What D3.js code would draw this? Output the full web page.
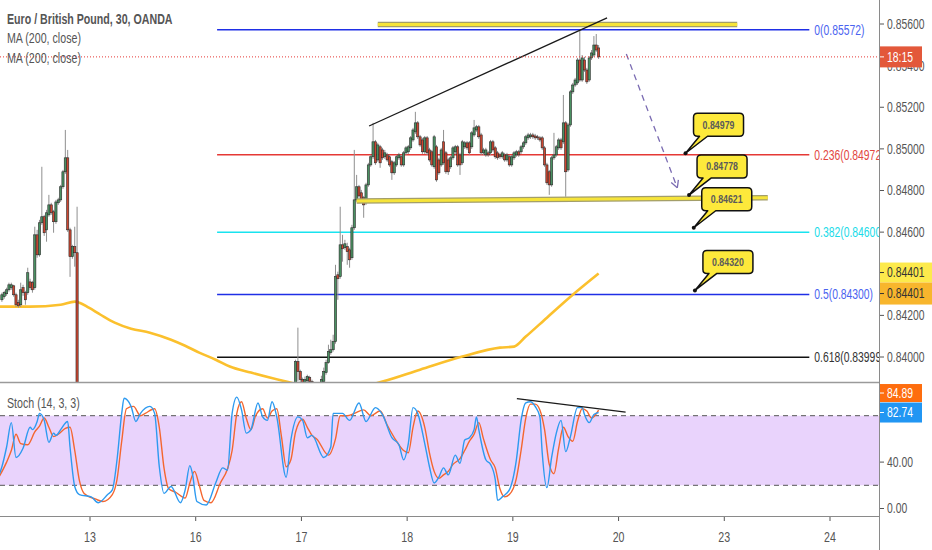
<!DOCTYPE html>
<html>
<head>
<meta charset="utf-8">
<script src="https://cdn.jsdelivr.net/npm/d3@7"></script>
<style>
  html, body { margin: 0; padding: 0; background: #fff; }
  svg { display: block; font-family: 'Liberation Sans', Arial, sans-serif; }
</style>
</head>
<body>
<svg id="chart" width="932" height="550"></svg>
<script>
// 时间轴：交易日标签（12 号为第 0 个交易日）
const dayLabels = ['12', '13', '16', '17', '18', '19', '20', '23', '24']
const BARS_PER_DAY = 45

// K 线 [open, high, low, close]，12 号 - 13 号
const candlesStartA = 7
const candlesA = [
  [0.84275, 0.84309, 0.84265, 0.84299], [0.8429, 0.84318, 0.8428, 0.84309], [0.84304, 0.84333, 0.84294, 0.84323],
  [0.84323, 0.84357, 0.84314, 0.84347], [0.84333, 0.84357, 0.84323, 0.84347], [0.84342, 0.84347, 0.8429, 0.84299],
  [0.84299, 0.84309, 0.84241, 0.84251], [0.84261, 0.84275, 0.84237, 0.84246], [0.84251, 0.84357, 0.84241, 0.84323],
  [0.84333, 0.84347, 0.84294, 0.84309], [0.84309, 0.84318, 0.84251, 0.84275], [0.84309, 0.84429, 0.84299, 0.84405],
  [0.84361, 0.84376, 0.84323, 0.84333], [0.84357, 0.84366, 0.84309, 0.84323], [0.84333, 0.84626, 0.84323, 0.84587],
  [0.84587, 0.84611, 0.84477, 0.84491], [0.84491, 0.84659, 0.84482, 0.84645], [0.84645, 0.84914, 0.84635, 0.84674],
  [0.84674, 0.84683, 0.84582, 0.84597], [0.84611, 0.84707, 0.84554, 0.84693], [0.84683, 0.84779, 0.84674, 0.84731],
  [0.84731, 0.84741, 0.84683, 0.84693], [0.84698, 0.84707, 0.84597, 0.8465], [0.8465, 0.84755, 0.8464, 0.84745],
  [0.84741, 0.84765, 0.84731, 0.84755], [0.84755, 0.84827, 0.84745, 0.84818], [0.84818, 0.84899, 0.84808, 0.8489],
  [0.8489, 0.85091, 0.8488, 0.84957], [0.84957, 0.84995, 0.84601, 0.84611], [0.84611, 0.84621, 0.84385, 0.84482],
  [0.84482, 0.84539, 0.84472, 0.8453], [0.8453, 0.84626, 0.84434, 0.84501], [0.84501, 0.84722, 0.83651, 0.83699],
]

// K 线，16 号尾盘 - 19 号
const candlesStartB = 132
const candlesB = [
  [0.83834, 0.83987, 0.83819, 0.83978], [0.83978, 0.84141, 0.83882, 0.8393], [0.8393, 0.83939, 0.83872, 0.83891],
  [0.83891, 0.83901, 0.83834, 0.83853], [0.83853, 0.83906, 0.83834, 0.83891], [0.83886, 0.83915, 0.83872, 0.83906],
  [0.83901, 0.8391, 0.83867, 0.83882], [0.83882, 0.83891, 0.83824, 0.83843], [0.83843, 0.83853, 0.83795, 0.83814],
  [0.83814, 0.83834, 0.83786, 0.83805], [0.83805, 0.83862, 0.83795, 0.83843], [0.83843, 0.8391, 0.83834, 0.83891],
  [0.83882, 0.83949, 0.83872, 0.8393], [0.83925, 0.83987, 0.83915, 0.83973], [0.83973, 0.84059, 0.83968, 0.84026],
  [0.84021, 0.84083, 0.84011, 0.84035], [0.84035, 0.84107, 0.84026, 0.84074], [0.84074, 0.84443, 0.84064, 0.84386],
  [0.84395, 0.8441, 0.84275, 0.84376], [0.84386, 0.84722, 0.84376, 0.84539], [0.84539, 0.84587, 0.84458, 0.8452],
  [0.84525, 0.84563, 0.84515, 0.84544], [0.8453, 0.84549, 0.84443, 0.84506], [0.84515, 0.84525, 0.84429, 0.84467],
  [0.84477, 0.84635, 0.84467, 0.84621], [0.84621, 0.84995, 0.84611, 0.84755], [0.84755, 0.84875, 0.84746, 0.84818],
  [0.84818, 0.84827, 0.84765, 0.84774], [0.84789, 0.84803, 0.84746, 0.84755], [0.84765, 0.84774, 0.84669, 0.84731],
  [0.84741, 0.84837, 0.84731, 0.84827], [0.84827, 0.84933, 0.84818, 0.84923], [0.84923, 0.84971, 0.84914, 0.84962],
  [0.84962, 0.85125, 0.84952, 0.85034], [0.85034, 0.85043, 0.84923, 0.84933], [0.84947, 0.85029, 0.84938, 0.85019],
  [0.8501, 0.85019, 0.84909, 0.84933], [0.84995, 0.85005, 0.84947, 0.84957], [0.84962, 0.84995, 0.84952, 0.84981],
  [0.84971, 0.84981, 0.84938, 0.84947], [0.84962, 0.84971, 0.84914, 0.84923], [0.84938, 0.84947, 0.84851, 0.84885],
  [0.84885, 0.84942, 0.84875, 0.84933], [0.84923, 0.84971, 0.84914, 0.84962], [0.84957, 0.84981, 0.84947, 0.84971],
  [0.84962, 0.84971, 0.84914, 0.84923], [0.84923, 0.8499, 0.84914, 0.84981], [0.84981, 0.85014, 0.84971, 0.85005],
  [0.84986, 0.85019, 0.84976, 0.8501], [0.85005, 0.85062, 0.84995, 0.85053], [0.85043, 0.85101, 0.85034, 0.85091],
  [0.85082, 0.85178, 0.85072, 0.85125], [0.85125, 0.85134, 0.85048, 0.85058], [0.85058, 0.85067, 0.8501, 0.85019],
  [0.85043, 0.85053, 0.84976, 0.84986], [0.84986, 0.85062, 0.84976, 0.85053], [0.85053, 0.85062, 0.84971, 0.84981],
  [0.84995, 0.85005, 0.84938, 0.84947], [0.84986, 0.84995, 0.84914, 0.84923], [0.84914, 0.85067, 0.84904, 0.85058],
  [0.8501, 0.85019, 0.84842, 0.84851], [0.84947, 0.84957, 0.84875, 0.84885], [0.84923, 0.85005, 0.84914, 0.84995],
  [0.85034, 0.85091, 0.84923, 0.84933], [0.84981, 0.8499, 0.8488, 0.8489], [0.84947, 0.84957, 0.84875, 0.8489],
  [0.84914, 0.84966, 0.84904, 0.84957], [0.84957, 0.85014, 0.84947, 0.85005], [0.84986, 0.85019, 0.84976, 0.8501],
  [0.8501, 0.85019, 0.84914, 0.84923], [0.84971, 0.84981, 0.84875, 0.84923], [0.84933, 0.85043, 0.84923, 0.85034],
  [0.8501, 0.85038, 0.85, 0.85029], [0.85029, 0.85038, 0.84995, 0.85005], [0.85029, 0.85038, 0.84971, 0.84981],
  [0.8501, 0.85086, 0.85, 0.85077], [0.85067, 0.85139, 0.85058, 0.85101], [0.85091, 0.85115, 0.85082, 0.85106],
  [0.85106, 0.85115, 0.85048, 0.85058], [0.85067, 0.85077, 0.84971, 0.84981], [0.84981, 0.85005, 0.84971, 0.84995],
  [0.84971, 0.85005, 0.84962, 0.84995], [0.84981, 0.8499, 0.84962, 0.84971], [0.84981, 0.85043, 0.84971, 0.85034],
  [0.85034, 0.85043, 0.84986, 0.84995], [0.85005, 0.85014, 0.84952, 0.84962], [0.84981, 0.8499, 0.84947, 0.84957],
  [0.84971, 0.84981, 0.84952, 0.84962], [0.84962, 0.8499, 0.84952, 0.84981], [0.84971, 0.84981, 0.84938, 0.84947],
  [0.84947, 0.84981, 0.84938, 0.84971], [0.84962, 0.84971, 0.84914, 0.84923], [0.84923, 0.84971, 0.84914, 0.84962],
  [0.84957, 0.8499, 0.84947, 0.84981], [0.84971, 0.84995, 0.84962, 0.84986], [0.84986, 0.84995, 0.84962, 0.84971],
  [0.84986, 0.85019, 0.84976, 0.8501], [0.8501, 0.85038, 0.85, 0.85029], [0.85029, 0.85067, 0.85019, 0.85058],
  [0.85053, 0.85077, 0.85043, 0.85067], [0.85058, 0.85077, 0.85048, 0.85067], [0.85067, 0.85077, 0.85048, 0.85058],
  [0.85062, 0.85072, 0.85043, 0.85053], [0.85058, 0.85067, 0.85043, 0.85053], [0.85053, 0.85062, 0.85034, 0.85043],
  [0.85053, 0.85062, 0.84995, 0.85005], [0.85005, 0.85014, 0.84914, 0.84923], [0.84923, 0.84933, 0.84827, 0.84837],
  [0.8489, 0.84899, 0.84779, 0.84827], [0.84827, 0.84966, 0.84818, 0.84957], [0.84957, 0.85077, 0.84947, 0.84971],
  [0.84971, 0.85019, 0.84962, 0.8501], [0.85005, 0.85053, 0.84995, 0.85043], [0.85043, 0.85053, 0.84995, 0.85005],
  [0.85034, 0.85259, 0.85024, 0.85125], [0.85125, 0.85134, 0.8477, 0.8489], [0.84899, 0.85125, 0.8489, 0.85115],
  [0.85115, 0.85283, 0.85106, 0.85274], [0.85274, 0.85317, 0.85264, 0.85307], [0.85307, 0.85341, 0.85298, 0.85331],
  [0.85317, 0.85437, 0.85307, 0.85427], [0.85427, 0.85572, 0.85322, 0.85331], [0.85331, 0.85451, 0.85322, 0.85437],
  [0.85427, 0.85442, 0.8537, 0.85379], [0.85379, 0.85389, 0.85312, 0.85322], [0.85331, 0.85446, 0.85322, 0.85437],
  [0.85437, 0.85475, 0.85427, 0.85461], [0.85451, 0.85542, 0.85442, 0.85499], [0.85499, 0.85552, 0.85466, 0.85475],
  [0.85485, 0.85499, 0.85432, 0.85442],
]

// MA(200, close) [bar, value]
const ma200 = [
  [6, 0.84242], [19, 0.84242], [32, 0.84251], [38, 0.84266], [40, 0.84261], [44, 0.84237], [49, 0.84203],
  [55, 0.84165], [62, 0.84136], [70, 0.84117], [79, 0.84083], [85, 0.84054], [91, 0.84021], [98, 0.83987],
  [104, 0.83954], [113, 0.83925], [121, 0.83901], [128, 0.83882], [149, 0.83834], [169, 0.83882], [185, 0.83939],
  [203, 0.84002], [219, 0.84045], [225, 0.8405], [230, 0.84098], [239, 0.84189], [250, 0.84299], [261, 0.84401],
]

// Stoch (14, 3, 3) %K [bar, value]
const stochK = [
  [6, 30], [7, 36], [9, 53], [11, 74], [13, 44], [16, 52], [19, 70], [20, 68], [22, 75], [23, 82], [25, 76], [27, 57],
  [29, 65], [30, 63], [32, 68], [35, 75], [36, 53], [38, 19], [40, 12], [45, 10], [48, 5], [52, 12], [54, 16],
  [56, 42], [58, 82], [59, 95], [62, 88], [64, 75], [66, 82], [70, 88], [72, 82], [74, 36], [76, 13], [79, 19],
  [83, 5], [85, 16], [87, 37], [88, 31], [90, 6], [94, 3], [98, 22], [101, 35], [103, 33], [105, 82], [107, 96],
  [109, 85], [111, 65], [113, 68], [116, 91], [118, 79], [120, 76], [122, 92], [124, 79], [128, 27], [130, 59],
  [133, 79], [135, 76], [137, 61], [139, 63], [144, 44], [147, 53], [148, 82], [152, 82], [155, 76], [159, 91],
  [162, 75], [166, 87], [169, 81], [173, 61], [176, 55], [178, 42], [180, 56], [182, 87], [184, 82], [187, 56],
  [189, 36], [191, 22], [193, 27], [195, 35], [197, 29], [200, 46], [202, 39], [204, 59], [206, 61], [208, 68],
  [209, 79], [210, 68], [213, 42], [215, 38], [217, 25], [218, 7], [220, 10], [223, 16], [226, 42], [228, 76],
  [230, 91], [232, 92], [234, 88], [236, 79], [237, 48], [239, 18], [241, 44], [243, 65], [245, 76], [247, 49],
  [249, 62], [252, 87], [254, 87], [255, 81], [257, 74], [259, 81], [261, 82.74],
]

// Stoch %D [bar, value]
const stochD = [
  [6, 28], [9, 40], [11, 50], [13, 64], [15, 56], [18, 55], [21, 66], [23, 71], [25, 78], [27, 70], [29, 62],
  [31, 64], [34, 69], [36, 70], [38, 50], [40, 24], [42, 13], [47, 8], [50, 6], [54, 12], [56, 25], [58, 58],
  [60, 86], [63, 88], [66, 80], [68, 82], [72, 86], [74, 70], [76, 35], [78, 17], [81, 14], [85, 9], [87, 22],
  [89, 32], [91, 20], [93, 7], [96, 5], [100, 22], [103, 34], [105, 50], [107, 82], [109, 92], [111, 78],
  [113, 68], [115, 80], [118, 86], [120, 78], [122, 84], [124, 86], [126, 62], [128, 36], [130, 42], [132, 66],
  [135, 77], [137, 70], [139, 63], [141, 60], [146, 46], [149, 60], [151, 80], [154, 80], [157, 82], [161, 85],
  [164, 80], [168, 84], [171, 72], [175, 58], [178, 50], [180, 48], [182, 70], [184, 84], [187, 70], [189, 48],
  [191, 32], [193, 26], [195, 29], [197, 32], [199, 38], [202, 43], [204, 50], [206, 58], [208, 64], [210, 74],
  [212, 60], [215, 42], [217, 35], [219, 17], [221, 10], [223, 12], [226, 26], [228, 50], [230, 78], [232, 90],
  [234, 90], [236, 85], [238, 68], [240, 38], [242, 30], [244, 52], [246, 70], [248, 62], [250, 58], [252, 75],
  [254, 86], [256, 84], [258, 78], [261, 84.89],
]

// 斐波那契回撤
const fibRatios = [0, 0.236, 0.382, 0.5, 0.618]
const fibPrices = [0.85572, 0.84972, 0.846, 0.843, 0.83999]
const fibRange = [98.6, 350.7]

// 标注气泡
const calloutBars = [298, 299.5, 301.5, 302]
const calloutPrices = [0.84979, 0.84778, 0.84621, 0.8432]

// 画线 [bar, price]
const topBand = [[167, 0.85597], [320, 0.85597]]
const supportBand = [[158, 0.8475], [333, 0.84765]]
const trendLine = [[163.3, 0.8511], [264.6, 0.85629]]
const projection = [[272.8, 0.85456], [294.5, 0.84813]]
const stochTrend = [[226.2, 94.7], [272.5, 83]]

// 坐标轴刻度
const priceTicks = [0.84, 0.842, 0.844, 0.846, 0.848, 0.85, 0.852, 0.854, 0.856]
const stochTicks = [0, 40, 80]
const countdown = '18:15'

// 布局
const width = 932
const height = 550
const axisX = 879
const mainBottom = 382
const stochTop = 383
const stochBottom = 516

const svg = d3.select('#chart')

const xDay = d3.scaleLinear().domain([1, 8]).range([90, 830])
const xBar = (b) => xDay((b + 0.5) / BARS_PER_DAY)
const y = d3.scaleLinear().domain([0.84, 0.856]).range([357, 24])
const yS = d3.scaleLinear().domain([0, 100]).range([508.5, 392.5])

// 文字横向压缩（参考图字体偏窄）
function squeeze(sel, k) {
  sel.each(function () {
    const w = this.getComputedTextLength()
    d3.select(this).attr('textLength', w * k).attr('lengthAdjust', 'spacingAndGlyphs')
  })
  return sel
}

const defs = svg.append('defs')
defs.append('clipPath').attr('id', 'clip-main').append('rect').attr('width', axisX).attr('height', mainBottom)
defs
  .append('clipPath')
  .attr('id', 'clip-stoch')
  .append('rect')
  .attr('y', stochTop)
  .attr('width', axisX)
  .attr('height', stochBottom - stochTop)

/* 主图 */
const main = svg.append('g').attr('clip-path', 'url(#clip-main)')

// 斐波那契线
const fib = main.append('g').attr('class', 'fib')
const fibLine = ['#1f2fe6', '#e53935', '#19e3ef', '#1f2fe6', '#111']
const fibText = ['#4a63f0', '#e2463f', '#19dbe8', '#4a63f0', '#333']
fibRatios.forEach((r, i) => {
  fib
    .append('line')
    .attr('x1', xBar(fibRange[0]))
    .attr('x2', xBar(fibRange[1]))
    .attr('y1', y(fibPrices[i]))
    .attr('y2', y(fibPrices[i]))
    .attr('stroke', fibLine[i])
    .attr('stroke-width', 1.5)
  fib
    .append('text')
    .attr('x', xBar(fibRange[1]) + 5)
    .attr('y', y(fibPrices[i]))
    .attr('dy', '0.35em')
    .attr('font-size', 14)
    .attr('fill', fibText[i])
    .text(`${r}(${fibPrices[i].toFixed(5)})`)
    .call(squeeze, 0.74)
})

// MA 线
main
  .append('path')
  .datum(ma200)
  .attr('fill', 'none')
  .attr('stroke', '#fbc02d')
  .attr('stroke-width', 2.6)
  .attr('d', d3.line().x((d) => xBar(d[0])).y((d) => y(d[1])).curve(d3.curveMonotoneX))

// K 线
function drawCandles(list, start) {
  const bars = list.map((d, i) => ({bar: start + i, o: d[0], h: d[1], l: d[2], c: d[3]}))
  const g = main.append('g').attr('class', 'candles')
  g.selectAll('line')
    .data(bars)
    .join('line')
    .attr('x1', (d) => xBar(d.bar))
    .attr('x2', (d) => xBar(d.bar))
    .attr('y1', (d) => y(d.h))
    .attr('y2', (d) => y(d.l))
    .attr('stroke', '#8f8f8f')
    .attr('stroke-width', 1)
  g.selectAll('rect')
    .data(bars)
    .join('rect')
    .attr('x', (d) => xBar(d.bar) - 1.1)
    .attr('width', 2.2)
    .attr('y', (d) => y(Math.max(d.o, d.c)))
    .attr('height', (d) => Math.max(1, Math.abs(y(d.o) - y(d.c))))
    .attr('fill', (d) => (d.c >= d.o ? '#4a9162' : '#cc4630'))
    .attr('stroke', '#2a2a2a')
    .attr('stroke-width', 0.6)
}
drawCandles(candlesA, candlesStartA)
drawCandles(candlesB, candlesStartB)

// 黄色高亮带
function band(pts) {
  const line = d3.line().x((d) => xBar(d[0])).y((d) => y(d[1]))
  main.append('path').attr('d', line(pts)).attr('stroke', '#a39e6a').attr('stroke-width', 5.5).attr('fill', 'none')
  main.append('path').attr('d', line(pts)).attr('stroke', '#f6e43a').attr('stroke-width', 3).attr('fill', 'none')
}
band(topBand)
band(supportBand)

// 趋势线
main
  .append('line')
  .attr('x1', xBar(trendLine[0][0]))
  .attr('y1', y(trendLine[0][1]))
  .attr('x2', xBar(trendLine[1][0]))
  .attr('y2', y(trendLine[1][1]))
  .attr('stroke', '#1a1a1a')
  .attr('stroke-width', 1.3)

// 预测箭头（虚线）
{
  const [a, b] = projection
  const x1 = xBar(a[0])
  const y1 = y(a[1])
  const x2 = xBar(b[0])
  const y2 = y(b[1])
  const ang = Math.atan2(y2 - y1, x2 - x1)
  main
    .append('line')
    .attr('x1', x1)
    .attr('y1', y1)
    .attr('x2', x2)
    .attr('y2', y2)
    .attr('stroke', '#7a6bb2')
    .attr('stroke-width', 1.3)
    .attr('stroke-dasharray', '6,5')
  ;[-0.5, 0.5].forEach((da) => {
    main
      .append('line')
      .attr('x1', x2)
      .attr('y1', y2)
      .attr('x2', x2 - 8 * Math.cos(ang + da))
      .attr('y2', y2 - 8 * Math.sin(ang + da))
      .attr('stroke', '#7a6bb2')
      .attr('stroke-width', 1.3)
  })
}

// 当前价格线
const lastClose = candlesB[candlesB.length - 1][3]
main
  .append('line')
  .attr('x1', 0)
  .attr('x2', axisX)
  .attr('y1', y(lastClose))
  .attr('y2', y(lastClose))
  .attr('stroke', '#e53935')
  .attr('stroke-dasharray', '1,2')

// 标注气泡
function calloutPath(ax, ay) {
  const x0 = ax + 8
  const x1 = ax + 58
  const y0 = ay - 40
  const y1 = ay - 17
  const r = 4
  return (
    `M${x0 + r},${y0}H${x1 - r}Q${x1},${y0} ${x1},${y0 + r}V${y1 - r}Q${x1},${y1} ${x1 - r},${y1}` +
    `H${x0 + 14}L${ax},${ay}L${x0 + 6},${y1}H${x0 + r}Q${x0},${y1} ${x0},${y1 - r}V${y0 + r}Q${x0},${y0} ${x0 + r},${y0}Z`
  )
}
calloutBars.forEach((b, i) => {
  const ax = xBar(b)
  const ay = y(calloutPrices[i])
  main
    .append('path')
    .attr('d', calloutPath(ax, ay))
    .attr('fill', '#fde93b')
    .attr('stroke', '#111')
    .attr('stroke-width', 1.5)
    .attr('stroke-linejoin', 'round')
  main.append('circle').attr('cx', ax).attr('cy', ay).attr('r', 2).attr('fill', '#111')
  main
    .append('text')
    .attr('x', ax + 33)
    .attr('y', ay - 28.5)
    .attr('dy', '0.35em')
    .attr('text-anchor', 'middle')
    .attr('font-size', 11)
    .attr('font-weight', 'bold')
    .attr('fill', '#5a5a5a')
    .text(calloutPrices[i].toFixed(5))
    .call(squeeze, 0.8)
})

// 图例
const legend = svg.append('g').attr('fill', '#555').attr('font-size', 14)
legend
  .append('text')
  .attr('x', 7)
  .attr('y', 24)
  .attr('font-weight', 'bold')
  .attr('fill', '#555')
  .text('Euro / British Pound, 30, OANDA')
  .call(squeeze, 0.76)
legend.append('text').attr('x', 7).attr('y', 43).text('MA (200, close)').call(squeeze, 0.76)
legend.append('text').attr('x', 7).attr('y', 63).text('MA (200, close)').call(squeeze, 0.76)

/* 副图 Stoch */
const sub = svg.append('g').attr('clip-path', 'url(#clip-stoch)')
sub
  .append('rect')
  .attr('x', 0)
  .attr('width', axisX)
  .attr('y', yS(80))
  .attr('height', yS(20) - yS(80))
  .attr('fill', '#e9d3fc')
;[20, 80].forEach((v) => {
  sub
    .append('line')
    .attr('x1', 0)
    .attr('x2', axisX)
    .attr('y1', yS(v))
    .attr('y2', yS(v))
    .attr('stroke', '#555')
    .attr('stroke-dasharray', '5,4')
})
const stochLine = d3.line().x((d) => xBar(d[0])).y((d) => yS(d[1])).curve(d3.curveMonotoneX)
sub.append('path').datum(stochD).attr('fill', 'none').attr('stroke', '#f4662f').attr('stroke-width', 1.4).attr('d', stochLine)
sub.append('path').datum(stochK).attr('fill', 'none').attr('stroke', '#2d9af0').attr('stroke-width', 1.4).attr('d', stochLine)
sub
  .append('line')
  .attr('x1', xBar(stochTrend[0][0]))
  .attr('y1', yS(stochTrend[0][1]))
  .attr('x2', xBar(stochTrend[1][0]))
  .attr('y2', yS(stochTrend[1][1]))
  .attr('stroke', '#1a1a1a')
  .attr('stroke-width', 1.3)
svg
  .append('text')
  .attr('x', 7)
  .attr('y', 408)
  .attr('font-size', 14)
  .attr('fill', '#555')
  .text('Stoch (14, 3, 3)')
  .call(squeeze, 0.76)

// 分隔线
svg.append('line').attr('x1', 0).attr('x2', axisX).attr('y1', 382.5).attr('y2', 382.5).attr('stroke', '#9a9a9a').attr('stroke-width', 1.5)
svg.append('line').attr('x1', 0).attr('x2', axisX).attr('y1', stochBottom + 0.5).attr('y2', stochBottom + 0.5).attr('stroke', '#8a8a8a')
svg.append('line').attr('x1', axisX + 0.5).attr('x2', axisX + 0.5).attr('y1', 0).attr('y2', height).attr('stroke', '#8a8a8a')

/* 坐标轴 */
const axisG = svg.append('g').attr('font-size', 14).attr('fill', '#555')

function axisLabel(yy, label) {
  axisG.append('line').attr('x1', axisX + 1).attr('x2', axisX + 5).attr('y1', yy).attr('y2', yy).attr('stroke', '#555')
  axisG.append('text').attr('x', axisX + 8).attr('y', yy).attr('dy', '0.35em').text(label).call(squeeze, 0.74)
}
priceTicks.forEach((p) => axisLabel(y(p), p.toFixed(5)))
stochTicks.forEach((v) => axisLabel(yS(v), v.toFixed(2)))

// 时间轴
dayLabels.forEach((d, i) => {
  if (i === 0) return
  axisG
    .append('line')
    .attr('x1', xDay(i))
    .attr('x2', xDay(i))
    .attr('y1', stochBottom + 1)
    .attr('y2', stochBottom + 5)
    .attr('stroke', '#555')
  axisG
    .append('text')
    .attr('x', xDay(i))
    .attr('y', 542)
    .attr('text-anchor', 'middle')
    .text(d)
    .call(squeeze, 0.76)
})

// 右侧价格标签
function priceTag(yy, h, fill, color, label, w = width - axisX) {
  const g = svg.append('g')
  g.append('rect').attr('x', axisX + 1).attr('y', yy - h / 2).attr('width', w).attr('height', h).attr('fill', fill)
  g.append('line').attr('x1', axisX + 1).attr('x2', axisX + 5).attr('y1', yy).attr('y2', yy).attr('stroke', color)
  g.append('text')
    .attr('x', axisX + 8)
    .attr('y', yy)
    .attr('dy', '0.35em')
    .attr('font-size', 14)
    .attr('fill', color)
    .text(label)
    .call(squeeze, 0.74)
}
const lastMA = ma200[ma200.length - 1][1]
priceTag(y(lastMA) - 1, 20, '#fdea4c', '#333', lastMA.toFixed(5))
priceTag(y(lastMA) + 20, 22, '#f8b62d', '#333', lastMA.toFixed(5))
priceTag(y(lastClose), 21, '#e3583a', '#fff', countdown, 42)

const lastK = stochK[stochK.length - 1][1]
const lastD = stochD[stochD.length - 1][1]
priceTag(yS(lastD) - 17, 18, '#fe6d0e', '#fff', lastD.toFixed(2), 42)
priceTag(yS(lastK), 20, '#2196f3', '#fff', lastK.toFixed(2), 42)
</script>
</body>
</html>
